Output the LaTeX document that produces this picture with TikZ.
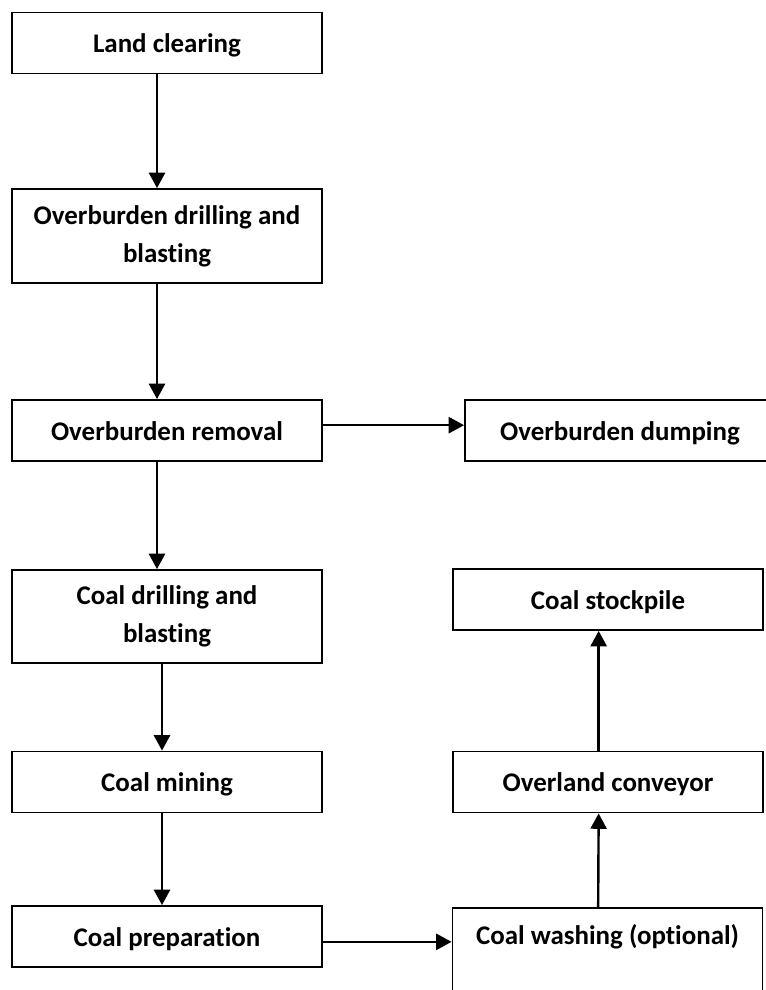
\documentclass[tikz,border=0pt]{standalone}
\usepackage{fontspec}
\setmainfont[Ligatures=NoCommon]{Carlito}
\usetikzlibrary{arrows.meta}
\tikzset{
  box/.style={draw, line width=1.4pt, rectangle, minimum width=232.5pt, minimum height=45.75pt,
    align=center, inner sep=0pt, font=\fontsize{20.2}{28.5}\selectfont\bfseries},
  one/.style={text height=18pt, text depth=3.2pt},
  arr/.style={line width=1.8pt, -{Triangle[width=12pt,length=11.5pt]}}
}
\begin{document}
\begin{tikzpicture}[x=0.75pt,y=-0.75pt]
\useasboundingbox (0,0) rectangle (766,990);
\clip (0,0) rectangle (766,990);
% left column
\node[box,one] (land) at (167,43) {Land clearing};
\node[box, minimum height=70.5pt] (odrill) at (167,236) {Overburden drilling and\\blasting};
\node[box,one] (oremove) at (167,430.5) {Overburden removal};
\node[box, minimum height=69.75pt] (cdrill) at (167,616.5) {Coal drilling and\\blasting};
\node[box,one] (cmine) at (167,782) {Coal mining};
\node[box,one] (cprep) at (167,936.5) {Coal preparation};
% right column
\node[box,one] (odump) at (620,430.5) {Overburden dumping};
\node[box,one] (stock) at (608,599.5) {Coal stockpile};
\node[box,one] (conv) at (608,782) {Overland conveyor};
\node[box, anchor=north, text height=18pt, text depth=60pt, inner ysep=9.3pt] (wash) at (607.5,907) {Coal washing (optional)};
% arrows
\draw[arr] ([xshift=-7.5pt]land.south) -- ([xshift=-7.5pt]odrill.north);
\draw[arr] ([xshift=-7.5pt]odrill.south) -- ([xshift=-7.5pt]oremove.north);
\draw[arr] ([xshift=-7.5pt]oremove.south) -- ([xshift=-7.5pt]cdrill.north);
\draw[arr] ([xshift=-3.75pt]cdrill.south) -- ([xshift=-3.75pt]cmine.north);
\draw[arr] ([xshift=-3.75pt]cmine.south) -- ([xshift=-3.75pt]cprep.north);
\draw[arr] ([yshift=4pt]oremove.east) -- ([yshift=4pt]oremove.east -| odump.west);
\draw[arr] ([yshift=-4pt]cprep.east) -- ([yshift=-4pt]cprep.east -| wash.west);
\draw[arr] ([xshift=-7pt]wash.north) -- ([xshift=-7pt]conv.south);
\draw[arr] ([xshift=-7pt]conv.north) -- ([xshift=-7pt]stock.south);
\end{tikzpicture}
\end{document}
